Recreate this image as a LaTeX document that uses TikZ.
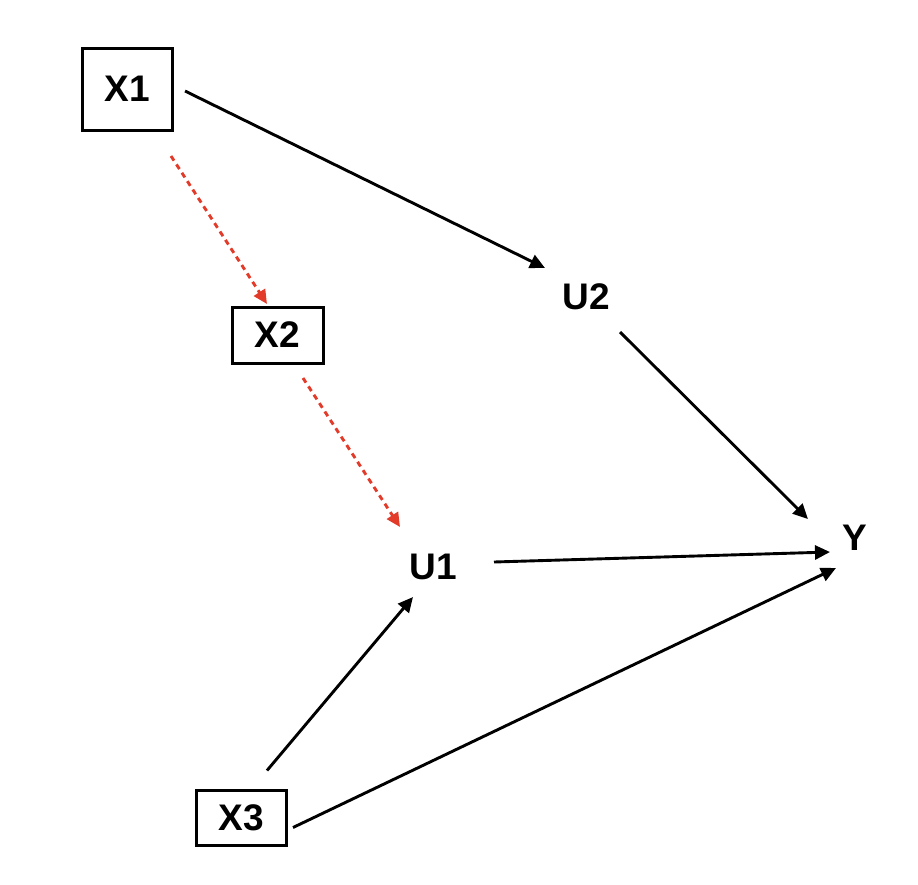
\documentclass[tikz,border=0pt]{standalone}
\usepackage{fontspec}
\setmainfont{Liberation Sans}
\usetikzlibrary{arrows.meta,calc}
\definecolor{arrowred}{RGB}{226,59,42}
\begin{document}
\begin{tikzpicture}[x=1pt,y=-1pt,
  lbl/.style={font=\fontsize{37}{40}\selectfont\bfseries, inner sep=0pt},
  boxnode/.style={lbl, draw, line width=3pt},
  conn/.style={line width=2.9pt, -{Triangle[length=15pt,width=14pt]}},
  redconn/.style={line width=2.9pt, arrowred, dash pattern=on 5.5pt off 4.5pt, -{Triangle[length=14pt,width=13pt]}}]
\useasboundingbox (0,0) rectangle (918,884);
\node[boxnode, minimum width=90pt, minimum height=82pt] (X1) at (127,89) {X1};
\node[boxnode, minimum width=91pt, minimum height=56pt] (X2) at (277.5,335) {X2};
\node[boxnode, minimum width=90pt, minimum height=55pt] (X3) at (241,817.5) {X3};
\node[lbl] (U1) at (433,567) {U1};
\node[lbl] (U2) at (586.5,297) {U2};
\node[lbl] (Y) at (855,538) {Y};
% connectors
\draw[conn] ($(X1.center)+(58,2)$) -- ($(U2.center)+(-41.5,-29)$);
\draw[redconn] ($(X1.center)+(44,67)$) -- ($(X2.center)+(-10.5,-31)$);
\draw[redconn] ($(X2.center)+(25.5,43)$) -- ($(U1.center)+(-33,-40)$);
\draw[conn] ($(U2.center)+(33.5,35)$) -- ($(Y.center)+(-47,-19)$);
\draw[conn] ($(U1.center)+(61,-5)$) -- ($(Y.center)+(-25,14)$);
\draw[conn] ($(X3.center)+(26,-47)$) -- ($(U1.center)+(-20,30)$);
\draw[conn] ($(X3.center)+(52,10)$) -- ($(Y.center)+(-19,30)$);
\end{tikzpicture}
\end{document}
